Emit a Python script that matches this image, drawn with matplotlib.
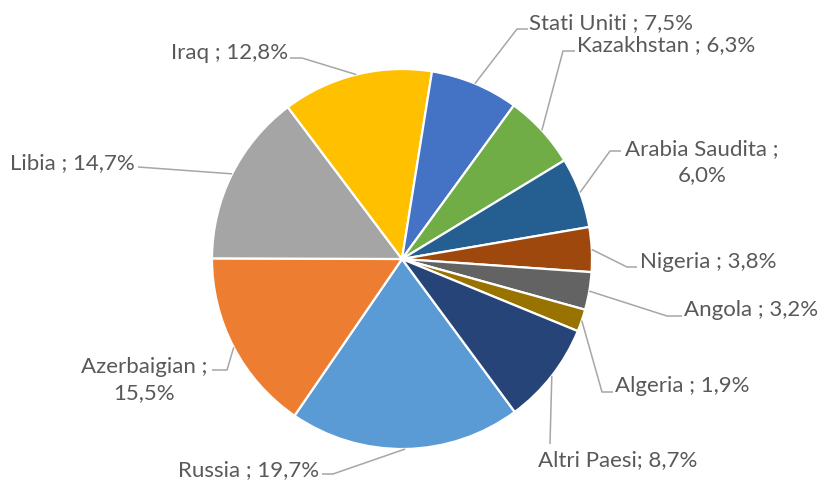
import numpy as np
import matplotlib
matplotlib.use("Agg")
import matplotlib.pyplot as plt

plt.rcParams['font.family'] = ['Lato', 'DejaVu Sans']

# dati (ordine serie Excel)
paesi = ['Russia', 'Azerbaigian', 'Libia', 'Iraq', 'Stati Uniti', 'Kazakhstan',
         'Arabia Saudita', 'Nigeria', 'Angola', 'Algeria', 'Altri Paesi']
quote = [19.7, 15.5, 14.7, 12.8, 7.5, 6.3, 6.0, 3.8, 3.2, 1.9, 8.7]
etichette = ['Russia ; 19,7%', 'Azerbaigian ;\n15,5%', 'Libia ; 14,7%', 'Iraq ; 12,8%',
             'Stati Uniti ; 7,5%', 'Kazakhstan ; 6,3%', 'Arabia Saudita ;\n6,0%',
             'Nigeria ; 3,8%', 'Angola ; 3,2%', 'Algeria ; 1,9%', 'Altri Paesi; 8,7%']
colori = ['#5B9BD5', '#ED7D31', '#A5A5A5', '#FFC000', '#4472C4', '#70AD47',
          '#255E91', '#9E480E', '#636363', '#997300', '#264478']

W, H = 818, 481
# posizione etichette (pixel, y dall'alto): gomito linea, punto testo, allineamento
layout = {
    'Russia': ((333, 475), (319, 470), 'right'),
    'Azerbaigian': ((227, 371), (144, 380), 'center'),
    'Libia': ((138, 168), (135, 163), 'right'),
    'Iraq': ((302, 59), (288, 53), 'right'),
    'Stati Uniti': ((517, 30), (529, 23), 'left'),
    'Kazakhstan': ((563, 52), (577, 45), 'left'),
    'Arabia Saudita': ((610, 152), (702, 162), 'center'),
    'Nigeria': ((627, 268), (640, 262), 'left'),
    'Angola': ((667, 317), (684, 310), 'left'),
    'Algeria': ((602, 393), (615, 386), 'left'),
    'Altri Paesi': ((550, 445), (538, 460), 'left'),
}
fine_linea = {'Russia': 322, 'Azerbaigian': 212, 'Libia': 138, 'Iraq': 290,
              'Stati Uniti': 528, 'Kazakhstan': 575, 'Arabia Saudita': 621,
              'Nigeria': 637, 'Angola': 682, 'Algeria': 613, 'Altri Paesi': 550}

fig = plt.figure(figsize=(W / 100, H / 100), dpi=100)
ax = fig.add_axes([0, 0, 1, 1])

cx, cy, r = 402, H - 260, 190
wedges, _ = ax.pie(quote, colors=colori, startangle=-53.6, counterclock=False,
                   center=(cx, cy), radius=r, frame=True,
                   wedgeprops=dict(edgecolor='white', linewidth=1.6))
ax.set_xlim(0, W)
ax.set_ylim(0, H)
ax.set_aspect('equal')
ax.axis('off')

grigio_linea = '#A6A6A6'
grigio_testo = '#595959'
for w, p, lab in zip(wedges, paesi, etichette):
    ang = np.deg2rad((w.theta1 + w.theta2) / 2)
    x0, y0 = cx + r * np.cos(ang), cy + r * np.sin(ang)
    (ex, ey), (tx, ty), ha = layout[p]
    x2 = fine_linea[p]
    ax.plot([x0, ex, x2], [y0, H - ey, H - ey], color=grigio_linea, lw=1.1,
            solid_capstyle='butt', zorder=1)
    ax.text(tx, H - ty, lab, ha=ha, va='center', fontsize=16, color=grigio_testo,
            multialignment='center', linespacing=1.35)

fig.savefig('out.png', dpi=100)
